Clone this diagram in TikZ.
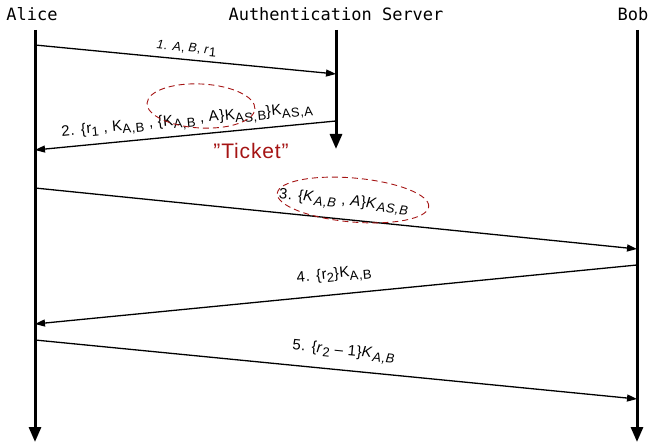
\documentclass[tikz,border=0pt]{standalone}
\usepackage{fontspec}
\setmainfont{Liberation Sans}[LetterSpace=4]
\setmonofont{DejaVu Sans Mono}
\usetikzlibrary{arrows.meta,shapes.geometric}

\definecolor{tktred}{RGB}{165,20,20}
\newcommand{\sbs}[1]{\raisebox{-0.45ex}{\fontsize{13}{13}\selectfont #1}}

\tikzset{
  lifeline/.style={line width=3pt,-{Triangle[length=15pt,width=12pt]}},
  msg/.style={line width=1.3pt,-{Triangle[length=10pt,width=7pt]}},
  actor/.style={font=\ttfamily\fontsize{17}{20}\selectfont},
  msglabel/.style={font=\fontsize{15}{17}\selectfont,sloped,above},
  ticket/.style={draw=tktred,dash pattern=on 6pt off 4pt,ellipse,line width=0.9pt,inner sep=0pt}
}

\begin{document}
\begin{tikzpicture}[x=1pt,y=-1pt]

            \useasboundingbox (0,0) rectangle (657,444);

            % actors
            \node[actor] (alice) at (32,14) {Alice};
            \node[actor] (server) at (336,14) {Authentication Server};
            \node[actor] (bob) at (633,14) {Bob};

            \coordinate (aliceTop) at (35,30);
            \coordinate (aliceEnd) at (35,442);
            \coordinate (serverTop) at (336,30);
            \coordinate (serverEnd) at (336,149);
            \coordinate (bobTop) at (637,30);
            \coordinate (bobEnd) at (637,442);

            \draw[lifeline] (aliceTop) -- (aliceEnd);
            \draw[lifeline] (serverTop) -- (serverEnd);
            \draw[lifeline] (bobTop) -- (bobEnd);

            % message end points
            \coordinate (m1s) at (35,45);   \coordinate (m1e) at (336,74);
            \coordinate (m2s) at (336,121); \coordinate (m2e) at (35,150);
            \coordinate (m3s) at (35,188);  \coordinate (m3e) at (637,249);
            \coordinate (m4s) at (637,265); \coordinate (m4e) at (35,324);
            \coordinate (m5s) at (35,340);  \coordinate (m5e) at (637,399);

            \draw[msg] (m1s) -- node[msglabel,font=\fontsize{12.5}{14}\selectfont,yshift=1pt] (l1)
                {\textit{1. A}, \textit{B}, \textit{r}\sbs{1}} (m1e);
            \draw[msg] (m2s) -- node[msglabel,pos=0.49,yshift=2pt] (l2)
                {2. \{r\sbs{1} , K\sbs{A,B} , \{K\sbs{A,B} , A\}K\sbs{AS,B}\}K\sbs{AS,A}} (m2e);
            \draw[msg] (m3s) -- node[msglabel,pos=0.51,yshift=5pt] (l3)
                {3. \{\textit{K}\sbs{\textit{A,B}} , \textit{A}\}\textit{K}\sbs{\textit{AS,B}}} (m3e);
            \draw[msg] (m4s) -- node[msglabel,yshift=7pt] (l4)
                {4. \{r\sbs{2}\}K\sbs{A,B}} (m4e);
            \draw[msg] (m5s) -- node[msglabel,pos=0.51,yshift=6pt] (l5)
                {5. \{\textit{r}\sbs{2} -- 1\}\textit{K}\sbs{\textit{A,B}}} (m5e);

            % the ticket
            \node[ticket,minimum width=108pt,minimum height=44pt,rotate=-3] (tk1) at (201,106) {};
            \node[ticket,minimum width=152pt,minimum height=44pt,rotate=-5] (tk2) at (353,200) {};
            \node[text=tktred,font=\fontsize{21}{24}\selectfont] (tklabel) at (251,151) {"Ticket"};

\end{tikzpicture}
\end{document}
